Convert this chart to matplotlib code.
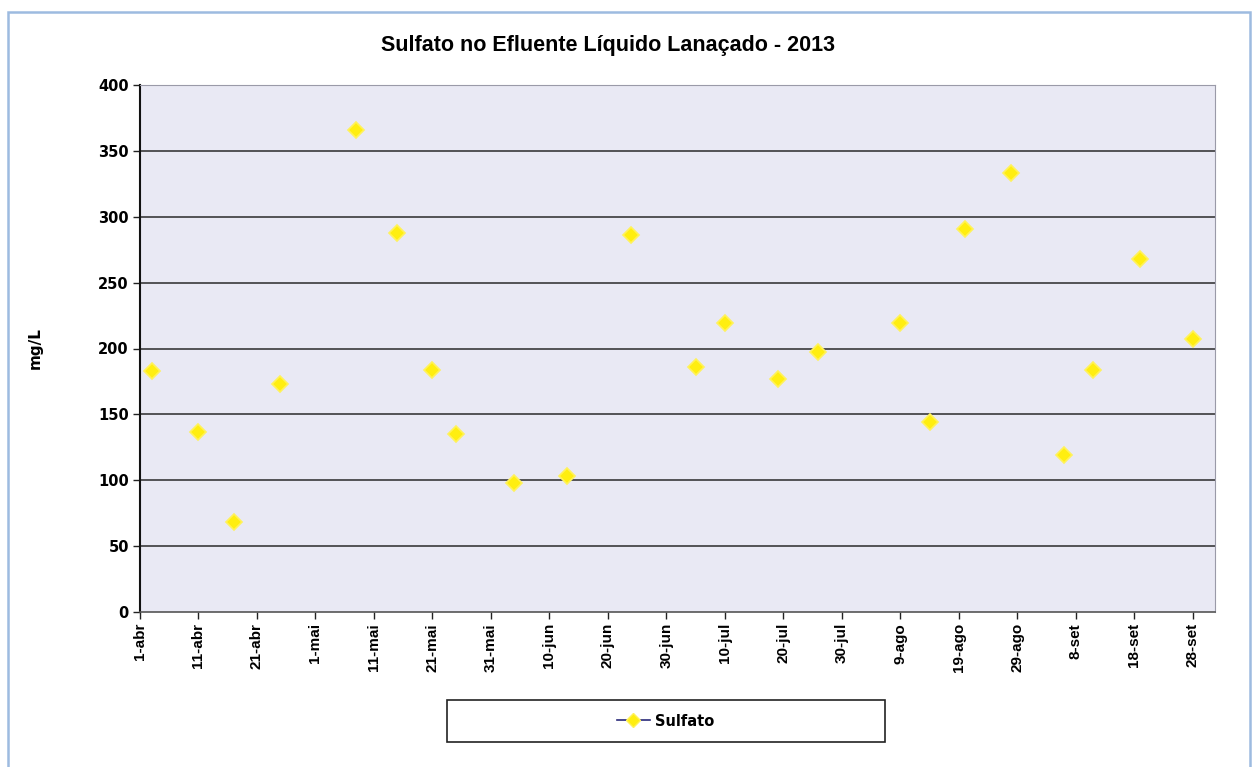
import datetime as dt
import matplotlib
matplotlib.use("Agg")
import matplotlib.pyplot as plt
import matplotlib.dates as mdates
from matplotlib.lines import Line2D
from matplotlib.patches import Rectangle

# Sulfato concentration in the liquid effluent, 2013 sampling dates
datas = ["2013-04-03", "2013-04-11", "2013-04-17", "2013-04-25", "2013-05-08",
         "2013-05-15", "2013-05-21", "2013-05-25", "2013-06-04", "2013-06-13",
         "2013-06-24", "2013-07-05", "2013-07-10", "2013-07-19", "2013-07-26",
         "2013-08-09", "2013-08-14", "2013-08-20", "2013-08-28", "2013-09-06",
         "2013-09-11", "2013-09-19", "2013-09-28"]
sulfato = [183, 137, 68, 173, 366, 288, 184, 135, 98, 103, 286, 186, 219,
           177, 197, 219, 144, 291, 333, 119, 184, 268, 207]

meses = ["jan", "fev", "mar", "abr", "mai", "jun", "jul", "ago", "set", "out", "nov", "dez"]
y_ticks = [0, 50, 100, 150, 200, 250, 300, 350, 400]

x = [dt.datetime.strptime(d, "%Y-%m-%d") for d in datas]
inicio = dt.datetime(2013, 4, 1)
x_ticks = [inicio + dt.timedelta(days=10 * i) for i in range(19)]

fig = plt.figure(figsize=(12.58, 7.67), dpi=100)
fig.patch.set_facecolor("white")

# light blue frame around the whole chart
fig.patches.append(Rectangle((8 / 1258, -0.02), 1242 / 1258, 0.02 + (767 - 12) / 767,
                             transform=fig.transFigure, fill=False,
                             edgecolor="#9dbbe0", linewidth=1.8))

ax = fig.add_axes([140 / 1258, 1 - 612 / 767, 1075 / 1258, 527 / 767])
ax.set_facecolor("#e9e9f4")

for v in y_ticks[1:-1]:
    ax.axhline(v, color="#2a2a2a", linewidth=1.1, zorder=1)

ax.plot(x, sulfato, linestyle="none", marker="D", markersize=8,
        color="#ffee10", markeredgecolor="#fff25a", markeredgewidth=1.2, zorder=3)

ax.set_ylim(0, 400)
ax.set_yticks(y_ticks)
ax.set_xlim(mdates.date2num(inicio), mdates.date2num(inicio) + 183.8)
ax.set_xticks(x_ticks)
ax.set_xticklabels([f"{d.day}-{meses[d.month - 1]}" for d in x_ticks],
                   rotation=90, fontsize=11, fontweight="bold",
                   family="Liberation Sans")
for lbl in ax.get_yticklabels():
    lbl.set_fontsize(10.5)
    lbl.set_fontweight("bold")

ax.tick_params(axis="both", direction="out", length=5, width=1, color="#222222", pad=3)
ax.spines["left"].set_color("#111111")
ax.spines["left"].set_linewidth(1.5)
ax.spines["bottom"].set_color("#555555")
ax.spines["bottom"].set_linewidth(1.2)
ax.spines["top"].set_color("#9a9aa8")
ax.spines["right"].set_color("#9a9aa8")

ax.set_ylabel("mg/L", fontsize=11, fontweight="bold", labelpad=40)

fig.text(0.483, 1 - 45 / 767, "Sulfato no Efluente Líquido Lanaçado - 2013",
         ha="center", va="center", fontsize=15.5, fontweight="bold",
         family="Liberation Sans")

# legend box below the plot, entry centered inside
fig.patches.append(Rectangle((447 / 1258, 1 - 742 / 767), 438 / 1258, 42 / 767,
                             transform=fig.transFigure, fill=False,
                             edgecolor="#222222", linewidth=1.2))
handle = Line2D([], [], color="#2a2a7a", linewidth=1.2, marker="D", markersize=7,
                markerfacecolor="#ffee10", markeredgecolor="#fff25a")
fig.legend([handle], ["Sulfato"], loc="center",
           bbox_to_anchor=(666 / 1258, 1 - 721 / 767),
           frameon=False, handlelength=2.2, handletextpad=0.4,
           prop={"weight": "bold", "size": 10.5})

fig.savefig("out.png", dpi=100)
